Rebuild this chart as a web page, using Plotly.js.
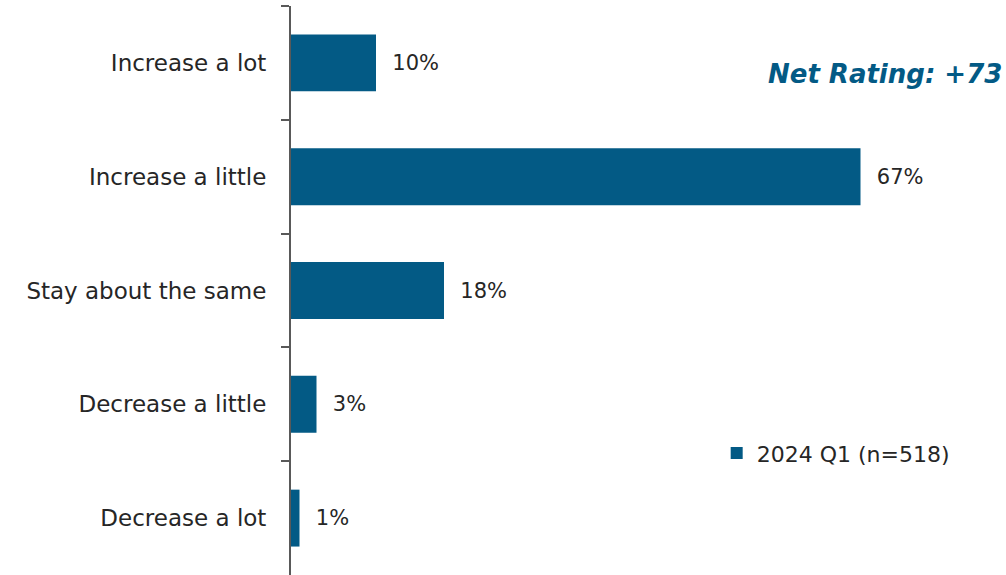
<!DOCTYPE html>
<html>
<head>
<meta charset="utf-8">
<script src="https://cdn.plot.ly/plotly-3.0.1.min.js"></script>
<style>html,body{margin:0;padding:0;background:#fff;}#chart{width:1006px;height:575px;}</style>
</head>
<body>
<div id="chart"></div>
<script>
const categories = ["Increase a lot", "Increase a little", "Stay about the same", "Decrease a little", "Decrease a lot"];
const values = [10, 67, 18, 3, 1];
const seriesName = "2024 Q1 (n=518)";
const netRatingText = "Net Rating: +73";

const barColor = "#035a85";
const fontFamily = "'DejaVu Sans', sans-serif";
const textColor = "#262626";

const trace = {
  type: "bar",
  orientation: "h",
  y: categories,
  x: values,
  name: seriesName,
  marker: {color: barColor},
  text: values.map(v => v + "%"),
  texttemplate: "  %{text}",
  textposition: "outside",
  textfont: {family: fontFamily, size: 21, color: textColor},
  cliponaxis: false,
  showlegend: true
};

const layout = {
  width: 1006, height: 575,
  margin: {l: 291, r: 35, t: 6, b: 0},
  paper_bgcolor: "#fff", plot_bgcolor: "#fff",
  bargap: 0.5,
  font: {family: fontFamily, size: 21, color: textColor},
  xaxis: {range: [0, 80], visible: false, fixedrange: true},
  yaxis: {
    autorange: "reversed",
    type: "category",
    showline: true, linecolor: "#595959", linewidth: 2,
    ticks: "outside", tickson: "boundaries", ticklen: 8, tickcolor: "#595959", tickwidth: 2,
    ticklabelstandoff: 18,
    showgrid: false, zeroline: false,
    tickfont: {family: fontFamily, size: 23, color: textColor}
  },
  showlegend: true,
  legend: {
    x: 0.626, y: 0.214, xanchor: "left", yanchor: "middle",
    font: {family: fontFamily, size: 22, color: textColor},
    bgcolor: "rgba(0,0,0,0)"
  },
  annotations: [{
    text: "<b><i>" + netRatingText + "</i></b>",
    xref: "paper", yref: "paper", x: 1.048, y: 0.88,
    xanchor: "right", yanchor: "middle", showarrow: false,
    font: {family: fontFamily, size: 26, color: barColor}
  }]
};

Plotly.newPlot("chart", [trace], layout, {displayModeBar: false, staticPlot: true});
</script>
</body>
</html>
